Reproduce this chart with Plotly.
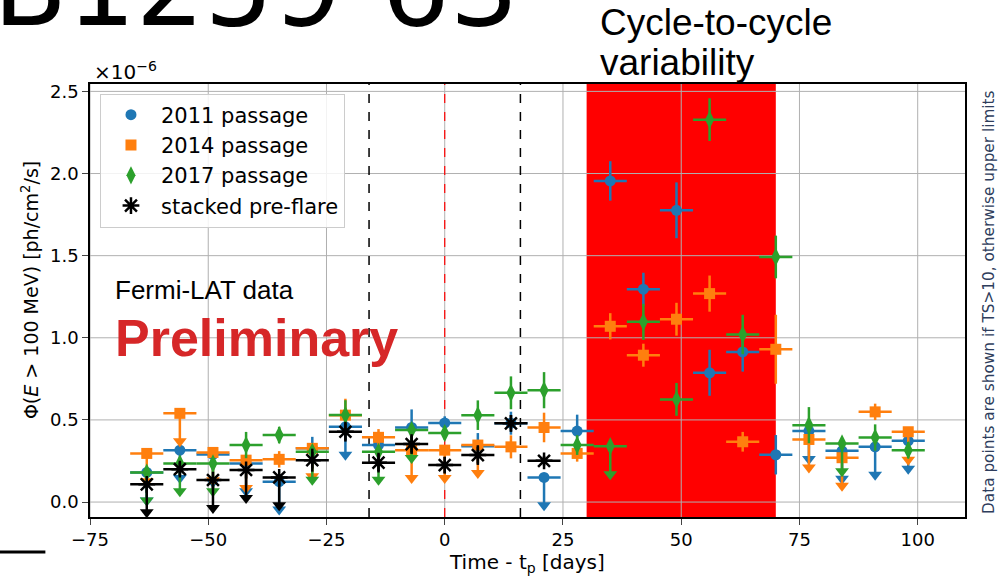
import plotly.graph_objects as go

# ---------------- data (flux in units of 1e-6 ph/cm^2/s) ----------------
days = [-63, -56, -49, -42, -35, -28, -21, -14, -7, 0, 7, 14, 21, 28,
        35, 42, 49, 56, 63, 70, 77, 84, 91, 98]
bin_halfwidth = 3.5

flux_2011 = [0.18, 0.316, 0.29, 0.235, 0.124, 0.327, 0.458, 0.347, 0.454, 0.482, 0.34, 0.48,
             0.15, 0.432, 1.955, 1.296, 1.776, 0.787, 0.914, 0.288, 0.432, 0.312, 0.336, 0.373]
err_2011 = [0, 0, 0, 0, 0, 0.07, 0, 0.08, 0.11, 0.04, 0.08, 0.07,
            0, 0.10, 0.12, 0.10, 0.17, 0.14, 0.12, 0.12, 0, 0, 0, 0]
ul_2011 = [1, 1, 1, 1, 1, 0, 1, 0, 0, 0, 0, 0,
           1, 0, 0, 0, 0, 0, 0, 0, 1, 1, 1, 1]

flux_2014 = [0.296, 0.54, 0.302, 0.255, 0.26, 0.327, 0.529, 0.394, 0.316, 0.316, 0.347, 0.336,
             0.454, 0.296, 1.07, 0.894, 1.113, 1.269, 0.367, 0.93, 0.381, 0.27, 0.549, 0.428]
err_2014 = [0, 0, 0, 0, 0.05, 0, 0.10, 0.05, 0, 0, 0, 0.07,
            0.09, 0.05, 0.08, 0.07, 0.10, 0.11, 0.06, 0.21, 0, 0, 0.05, 0]
ul_2014 = [1, 1, 1, 1, 0, 1, 0, 0, 1, 1, 1, 0,
           0, 0, 0, 0, 0, 0, 0, 0, 1, 1, 0, 1]

flux_2017 = [0.18, 0.235, 0.235, 0.347, 0.408, 0.306, 0.53, 0.306, 0.438, 0.42, 0.529, 0.665,
             0.681, 0.347, 0.34, 1.097, 0.625, 2.328, 1.02, 1.492, 0.468, 0.357, 0.393, 0.316]
err_2017 = [0, 0, 0, 0.08, 0.05, 0, 0.09, 0, 0, 0.04, 0.09, 0.10,
            0.11, 0.06, 0, 0.11, 0.10, 0.13, 0.12, 0.13, 0.11, 0, 0.08, 0.05]
ul_2017 = [1, 1, 1, 0, 0, 1, 0, 1, 1, 0, 0, 0,
           0, 0, 1, 0, 0, 0, 0, 0, 0, 1, 0, 0]

days_stack = [-63, -56, -49, -42, -35, -28, -21, -14, -7, 0, 7, 14, 21]
flux_stack = [0.108, 0.2, 0.134, 0.195, 0.15, 0.255, 0.428, 0.24, 0.353, 0.225, 0.286, 0.479, 0.251]
err_stack = [0, 0.04, 0, 0, 0, 0.07, 0.06, 0.06, 0.06, 0.05, 0.06, 0.05, 0.03]
ul_stack = [1, 0, 1, 1, 1, 0, 0, 0, 0, 0, 0, 0, 0]

x_ticks = [-75, -50, -25, 0, 25, 50, 75, 100]
y_ticks = [0.0, 0.5, 1.0, 1.5, 2.0, 2.5]

flare_window = [30, 70]        # cycle-to-cycle variability region (days)
preflare_edges = [-16, 16]     # dashed black lines
periastron = 0                 # red dashed line

UL_ARROW = 0.17  # length of upper-limit arrows (1e-6 units)

series = [
    ("2011 passage", days, flux_2011, err_2011, ul_2011, "#1f77b4", "circle", 11),
    ("2014 passage", days, flux_2014, err_2014, ul_2014, "#ff7f0e", "square", 11),
    ("2017 passage", days, flux_2017, err_2017, ul_2017, "#2ca02c", "diamond-tall", 13),
    ("stacked pre-flare", days_stack, flux_stack, err_stack, ul_stack, "black", "asterisk-open", 14),
]

fig = go.Figure()

for name, xs, ys, es, uls, col, sym, sz in series:
    plus = [0 if u else e for e, u in zip(es, uls)]
    minus = [UL_ARROW if u else e for e, u in zip(es, uls)]
    marker = dict(symbol=sym, size=sz, color=col)
    if sym == "asterisk-open":
        marker["line"] = dict(color=col, width=2.5)
    fig.add_trace(go.Scatter(
        x=xs, y=ys, mode="markers", name=name,
        marker=marker,
        error_y=dict(type="data", symmetric=False, array=plus, arrayminus=minus,
                     color=col, thickness=2.5, width=0),
        error_x=dict(type="constant", value=bin_halfwidth, color=col, thickness=2.5, width=0),
    ))
    ax = [x for x, u in zip(xs, uls) if u]
    ay = [y - UL_ARROW for y, u in zip(ys, uls) if u]
    fig.add_trace(go.Scatter(
        x=ax, y=ay, mode="markers", showlegend=False,
        marker=dict(symbol="triangle-down", size=12, color=col), hoverinfo="skip",
    ))

GRID = "#b0b0b0"
shapes = [
    dict(type="rect", xref="x", yref="paper", x0=flare_window[0], x1=flare_window[1], y0=0, y1=1,
         fillcolor="#ff0000", line=dict(width=0), layer="below"),
]
for t in x_ticks:
    shapes.append(dict(type="line", xref="x", yref="paper", x0=t, x1=t, y0=0, y1=1,
                       line=dict(color=GRID, width=1), layer="below"))
for t in y_ticks:
    shapes.append(dict(type="line", xref="paper", yref="y", x0=0, x1=1, y0=t, y1=t,
                       line=dict(color=GRID, width=1), layer="below"))
for e in preflare_edges:
    shapes.append(dict(type="line", xref="x", yref="paper", x0=e, x1=e, y0=0, y1=1,
                       line=dict(color="black", width=1.5, dash="dash"), layer="below"))
shapes.append(dict(type="line", xref="x", yref="paper", x0=periastron, x1=periastron, y0=0, y1=1,
                   line=dict(color="red", width=1.2, dash="dash"), layer="below"))
shapes.append(dict(type="line", xref="paper", yref="paper", x0=-0.105, x1=-0.051, y0=-0.081, y1=-0.081,
                   line=dict(color="black", width=3)))

annotations = [
    dict(text="B1259-63", xref="paper", yref="paper", x=0.491, y=1.074,
         xanchor="right", yanchor="bottom", showarrow=False,
         font=dict(family="DejaVu Sans", size=108, color="black")),
    dict(text="Cycle-to-cycle", xref="paper", yref="paper", x=0.5806, y=1.143,
         xanchor="left", yanchor="middle", align="left", showarrow=False,
         font=dict(family="Liberation Sans", size=37, color="black")),
    dict(text="variability", xref="paper", yref="paper", x=0.5806, y=1.0485,
         xanchor="left", yanchor="middle", align="left", showarrow=False,
         font=dict(family="Liberation Sans", size=37, color="black")),
    dict(text="×10<sup>−6</sup>", xref="paper", yref="paper", x=0.002, y=1.03,
         xanchor="left", yanchor="middle", showarrow=False,
         font=dict(family="DejaVu Sans", size=20, color="black")),
    dict(text="Fermi-LAT data", xref="paper", yref="paper", x=0.0263, y=0.524,
         xanchor="left", yanchor="middle", showarrow=False,
         font=dict(family="Liberation Sans", size=26, color="black")),
    dict(text="<b>Preliminary</b>", xref="paper", yref="paper", x=0.0263, y=0.413,
         xanchor="left", yanchor="middle", showarrow=False,
         font=dict(family="Liberation Sans", size=52, color="#d62728")),
    dict(text="Data points are shown if TS>10, otherwise upper limits", xref="paper", yref="paper",
         x=1.0274, y=0.4965, xanchor="center", yanchor="middle", textangle=-90, showarrow=False,
         font=dict(family="DejaVu Sans", size=15.3, color="#2e3d5c")),
    dict(text="Φ(<i>E</i> &gt; 100 MeV) [ph/cm<sup>2</sup>/s]", xref="paper", yref="paper",
         x=-0.0686, y=0.524, xanchor="center", yanchor="middle", textangle=-90, showarrow=False,
         font=dict(family="DejaVu Sans", size=19, color="black")),
    dict(text="Time - t<sub>p</sub> [days]", xref="paper", yref="paper",
         x=0.4994, y=-0.106, xanchor="center", yanchor="middle", showarrow=False,
         font=dict(family="DejaVu Sans", size=20, color="black")),
]

fig.update_layout(
    width=1003, height=577,
    margin=dict(l=90, r=38, t=84, b=60),
    paper_bgcolor="white", plot_bgcolor="white",
    font=dict(family="DejaVu Sans", size=18, color="black"),
    shapes=shapes, annotations=annotations,
    legend=dict(x=0.0114, y=0.978, xanchor="left", yanchor="top",
                bgcolor="rgba(255,255,255,0.85)", bordercolor="#cccccc", borderwidth=1,
                font=dict(size=21), tracegroupgap=0, itemwidth=50),
    xaxis=dict(range=[-75, 110], tickvals=x_ticks, ticks="outside", ticklen=6, tickwidth=1.3,
               showline=True, linecolor="black", linewidth=1.5, mirror=True,
               showgrid=False, zeroline=False, tickfont=dict(size=18)),
    yaxis=dict(range=[-0.091, 2.545], tickvals=y_ticks, tickformat=".1f", ticks="outside",
               ticklen=6, tickwidth=1.3,
               showline=True, linecolor="black", linewidth=1.5, mirror=True,
               showgrid=False, zeroline=False, tickfont=dict(size=18)),
)

fig.write_html("out.html")
